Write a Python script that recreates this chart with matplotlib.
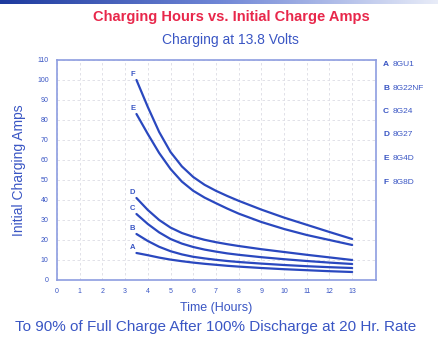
import numpy as np
import matplotlib
matplotlib.use("Agg")
import matplotlib.pyplot as plt
from matplotlib import font_manager

# Prefer a narrow sans face for the condensed look
avail = {f.name for f in font_manager.fontManager.ttflist}
NARROW = "Liberation Sans Narrow" if "Liberation Sans Narrow" in avail else "Liberation Sans"
plt.rcParams["font.family"] = [NARROW, "DejaVu Sans"]

hours = [3.5, 4, 4.5, 5, 5.5, 6, 6.5, 7, 7.5, 8, 9, 10, 11, 12, 13]
amps_A = [13.5, 12.4, 11.2, 10.2, 9.4, 8.7, 8.1, 7.6, 7.1, 6.7, 6.0, 5.4, 4.9, 4.4, 4.0]
amps_B = [23, 19.5, 16.6, 14.4, 12.8, 11.6, 10.8, 10.1, 9.5, 9.0, 8.2, 7.5, 6.9, 6.4, 6.0]
amps_C = [33, 28, 23.8, 20.5, 18.2, 16.5, 15.2, 14.2, 13.3, 12.6, 11.4, 10.4, 9.5, 8.7, 8.0]
amps_D = [41, 35, 30, 26.2, 23.5, 21.6, 20.1, 18.9, 17.9, 17.0, 15.4, 14.0, 12.6, 11.3, 10.0]
amps_E = [83, 73, 63.5, 55.5, 49.2, 44.6, 41.2, 38.4, 35.7, 33.2, 29.0, 25.5, 22.5, 20.0, 17.5]
amps_F = [100, 86.5, 74, 64, 56.8, 51.5, 47.6, 44.6, 42.0, 39.6, 35.2, 31.2, 27.6, 24.0, 20.5]
letters = ["A", "B", "C", "D", "E", "F"]
models = ["8GU1", "8G22NF", "8G24", "8G27", "8G4D", "8G8D"]
series = [amps_A, amps_B, amps_C, amps_D, amps_E, amps_F]
x_ticks = list(range(0, 14))
y_ticks = list(range(0, 111, 10))

BLUE = "#3a56c4"
LINE = "#2a48bf"
RED = "#e8274b"
FRAME = "#8d9de0"

fig = plt.figure(figsize=(4.38, 3.39), dpi=100)
W, H = 438, 339

# thin gradient band along the top edge
band = fig.add_axes([0, 1 - 4 / H, 1, 4 / H])
grad = np.linspace(0, 1, 256)[None, :]
band.imshow(grad, aspect="auto", cmap=matplotlib.colors.LinearSegmentedColormap.from_list(
    "band", ["#1d3a9e", "#6f86d6", "#e8ecf8"]), extent=[0, 1, 0, 1])
band.axis("off")

ax = fig.add_axes([57 / W, 1 - 280 / H, (376 - 57) / W, (280 - 60) / H])
ax.set_xlim(0, 14.05)
ax.set_ylim(0, 110)
for s in series:
    ax.plot(hours, s, color=LINE, lw=1.6, solid_capstyle="round", solid_joinstyle="round")
for lab, s in zip(letters, series):
    ax.text(hours[0] - 0.05, s[0] + 1.0, lab, color=BLUE, fontsize=5.5,
            fontweight="bold", ha="right", va="bottom")

ax.set_xticks(x_ticks)
ax.set_yticks(y_ticks)
ax.tick_params(length=0, labelsize=5, labelcolor=BLUE, pad=6)
ax.grid(True, color="#dcdce4", lw=0.6, ls=(0, (3, 3)))
for sp in ax.spines.values():
    sp.set_color(FRAME)
    sp.set_linewidth(1.2)

ax.set_xlabel("Time (Hours)", color=BLUE, fontsize=9, labelpad=5)
ax.set_ylabel("Initial Charging Amps", color=BLUE, fontsize=10, labelpad=8)

fig.text(231 / W, 1 - 17 / H, "Charging Hours vs. Initial Charge Amps", color=RED,
         fontsize=10.5, fontweight="bold", ha="center", va="center")
fig.text(230 / W, 1 - 40 / H, "Charging at 13.8 Volts", color=BLUE,
         fontsize=10, ha="center", va="center")
fig.text(216 / W, 1 - 327 / H, "To 90% of Full Charge After 100% Discharge at 20 Hr. Rate",
         color=BLUE, fontsize=11, ha="center", va="center")

legend_y = [65, 88, 111, 134, 158, 182]
for lab, name, yy in zip(letters, models, legend_y):
    fig.text(383 / W, 1 - yy / H, lab, color=BLUE, fontsize=6, fontweight="bold",
             va="center", ha="left")
    fig.text(393 / W, 1 - yy / H, name, color=BLUE, fontsize=6, va="center", ha="left")

fig.savefig("out.png", dpi=100, facecolor="white")
